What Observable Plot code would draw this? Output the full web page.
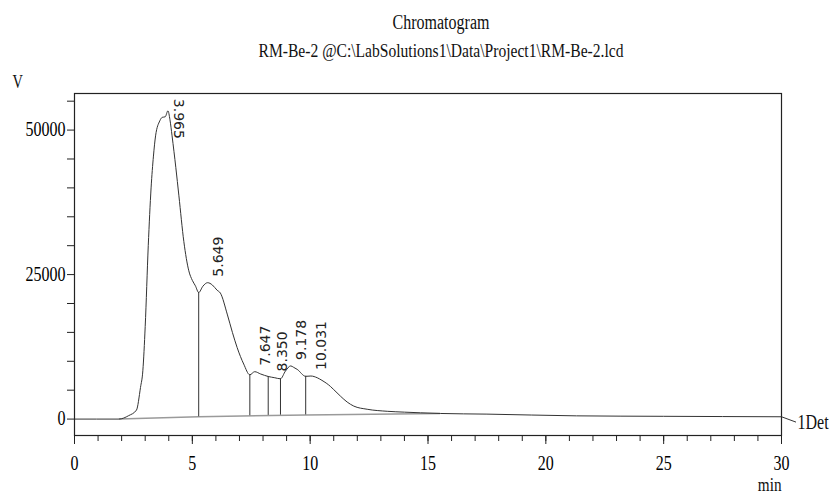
<!DOCTYPE html>
<html><head><meta charset="utf-8">
<script src="https://cdn.jsdelivr.net/npm/d3@7"></script>
<script src="https://cdn.jsdelivr.net/npm/@observablehq/plot@0.6"></script>
<style>
body{margin:0;background:#fff;}
</style></head>
<body><div id="chart"></div>
<script>
// Signal (retention time in min, intensity)
const times  = [0, 1.88, 2.3, 2.63, 2.80, 2.90, 3.0, 3.13, 3.25, 3.35, 3.44, 3.62, 3.72, 3.85, 3.965, 4.05, 4.14, 4.30, 4.43, 4.64, 4.85, 5.0, 5.13, 5.27, 5.45, 5.649, 5.85, 6.05, 6.19, 6.48, 6.70, 6.90, 7.18, 7.44, 7.647, 7.9, 8.22, 8.50, 8.74, 8.95, 9.178, 9.30, 9.45, 9.81, 10.031, 10.30, 10.50, 10.86, 11.0, 11.29, 11.57, 11.85, 12.42, 13.27, 14.0, 14.68, 15.53, 17.5, 21.3, 25, 30];
const signal = [0, 0, 600, 1560, 5470, 8360, 16000, 30000, 40000, 45500, 49000, 51600, 52200, 52300, 53340, 51800, 49000, 43500, 38630, 30700, 25660, 24000, 23060, 21900, 23000, 23600, 23200, 22300, 21800, 18170, 15000, 12390, 9520, 7660, 8200, 7800, 7370, 7150, 6970, 8300, 9200, 8950, 8600, 7400, 7450, 7150, 6700, 5650, 5100, 3950, 2950, 2250, 1700, 1350, 1200, 1090, 970, 860, 560, 480, 400];

// Integration baseline
const baseTimes  = [1.9, 5.27, 9.81, 15.5];
const baseValues = [0, 400, 720, 960];

// Peak boundary drop lines
const dropTimes   = [5.27, 7.44, 8.22, 8.74, 9.81];
const dropTops    = [21900, 7660, 7370, 6970, 7400];
const dropBottoms = [400, 580, 640, 680, 720];

// Peak labels
const peakTimes   = [3.965, 5.649, 7.647, 8.350, 9.178, 10.031];
const peakHeights = [53340, 23600, 8200, 7200, 9200, 7450];
const peakLabels  = ["3.965", "5.649", "7.647", "8.350", "9.178", "10.031"];

// Axis ticks
const yTicks      = [0, 5000, 10000, 15000, 20000, 25000, 30000, 35000, 40000, 45000, 50000, 55000];
const yTickLabels = [0, 25000, 50000];
const xMinor      = [0,1,2,3,4,5,6,7,8,9,10,11,12,13,14,15,16,17,18,19,20,21,22,23,24,25,26,27,28,29,30];
const xMajor      = [0, 5, 10, 15, 20, 25, 30];

const title    = "Chromatogram";
const subtitle = "RM-Be-2 @C:\\LabSolutions1\\Data\\Project1\\RM-Be-2.lcd";
const yUnit    = "V";
const xUnit    = "min";
const detName  = "1Det";
const endLead  = [{t: 30, v: 400}, {t: 30.6, v: -500}];

const signalData = times.map((t, i) => ({t, v: signal[i]}));
const baseData   = baseTimes.map((t, i) => ({t, v: baseValues[i]}));
const dropData   = dropTimes.map((t, i) => ({t, top: dropTops[i], bottom: dropBottoms[i]}));
const peakData   = peakTimes.map((t, i) => ({t, v: peakHeights[i], label: peakLabels[i]}));

const SERIF = "Liberation Serif";
const SANS = "DejaVu Sans";

const chart = Plot.plot({
  width: 832, height: 495,
  marginLeft: 74, marginRight: 51, marginTop: 93, marginBottom: 60,
  style: {background: "white", color: "black", fontFamily: SERIF},
  x: {domain: [0, 30]},
  y: {domain: [-2840, 56330]},
  marks: [
    Plot.axisY({ticks: yTicks, tickSize: 7, tickPadding: 2, label: null,
      tickFormat: d => yTickLabels.includes(d) ? String(d) : "", fontSize: 20, fontFamily: SERIF, stroke: "#222"}),
    Plot.axisX({ticks: xMinor, tickSize: 6, tickFormat: () => "", label: null, stroke: "#222"}),
    Plot.axisX({ticks: xMajor, tickSize: 9, tickPadding: 11, label: null, fontSize: 20, fontFamily: SERIF, stroke: "#222"}),
    Plot.line(baseData, {x: "t", y: "v", stroke: "#9a9a9a", strokeWidth: 1.5}),
    Plot.line(signalData, {x: "t", y: "v", stroke: "#333", strokeWidth: 1, curve: "monotone-x"}),
    Plot.ruleX(dropData, {x: "t", y1: "bottom", y2: "top", stroke: "#333", strokeWidth: 1}),
    Plot.frame({stroke: "#222", strokeWidth: 1.2}),
    Plot.text(peakData.slice(0, 1), {x: "t", y: "v", text: "label", rotate: 90, textAnchor: "start", lineAnchor: "middle",
      dx: 11, dy: -12, fontSize: 14, fontFamily: SANS, fill: "#222"}),
    Plot.text(peakData.slice(1), {x: "t", y: "v", text: "label", rotate: -90, textAnchor: "start", lineAnchor: "middle",
      dx: 11, dy: -6, fontSize: 14, fontFamily: SANS, fill: "#222"}),
    Plot.line(endLead, {x: "t", y: "v", stroke: "#333", strokeWidth: 1, clip: false}),
    Plot.text([detName], {frameAnchor: "bottom-right", text: d => d, textAnchor: "start", lineAnchor: "bottom",
      dx: 16, dy: -7, fontSize: 20, fontFamily: SERIF, fill: "#111"}),
    Plot.text([xUnit], {frameAnchor: "bottom-right", text: d => d, textAnchor: "end", lineAnchor: "bottom",
      dy: 55, fontSize: 19, fontFamily: SERIF, fill: "#111"}),
    Plot.text([yUnit], {frameAnchor: "top-left", text: d => d, textAnchor: "start", lineAnchor: "bottom",
      dx: -62, dy: -6, fontSize: 18, fontFamily: SERIF, fill: "#111"}),
    Plot.text([title], {frameAnchor: "top", text: d => d, textAnchor: "middle", lineAnchor: "bottom",
      dx: 13, dy: -65, fontSize: 20, fontFamily: SERIF, fill: "#111"}),
    Plot.text([subtitle], {frameAnchor: "top", text: d => d, textAnchor: "middle", lineAnchor: "bottom",
      dx: 13, dy: -37, fontSize: 19.5, fontFamily: SERIF, fill: "#111"})
  ]
});

// Condense the serif (Times-like) texts horizontally, as in the reference
chart.querySelectorAll(`g[font-family="${SERIF}"] text`).forEach(t => {
  const tr = t.getAttribute("transform");
  if (tr) t.setAttribute("transform", tr + " scale(0.8,1)");
  else {
    const x = +(t.getAttribute("x") || 0), y = +(t.getAttribute("y") || 0);
    t.removeAttribute("x"); t.removeAttribute("y");
    t.setAttribute("transform", `translate(${x},${y}) scale(0.8,1)`);
  }
});

document.getElementById("chart").append(chart);
</script>
</body></html>
